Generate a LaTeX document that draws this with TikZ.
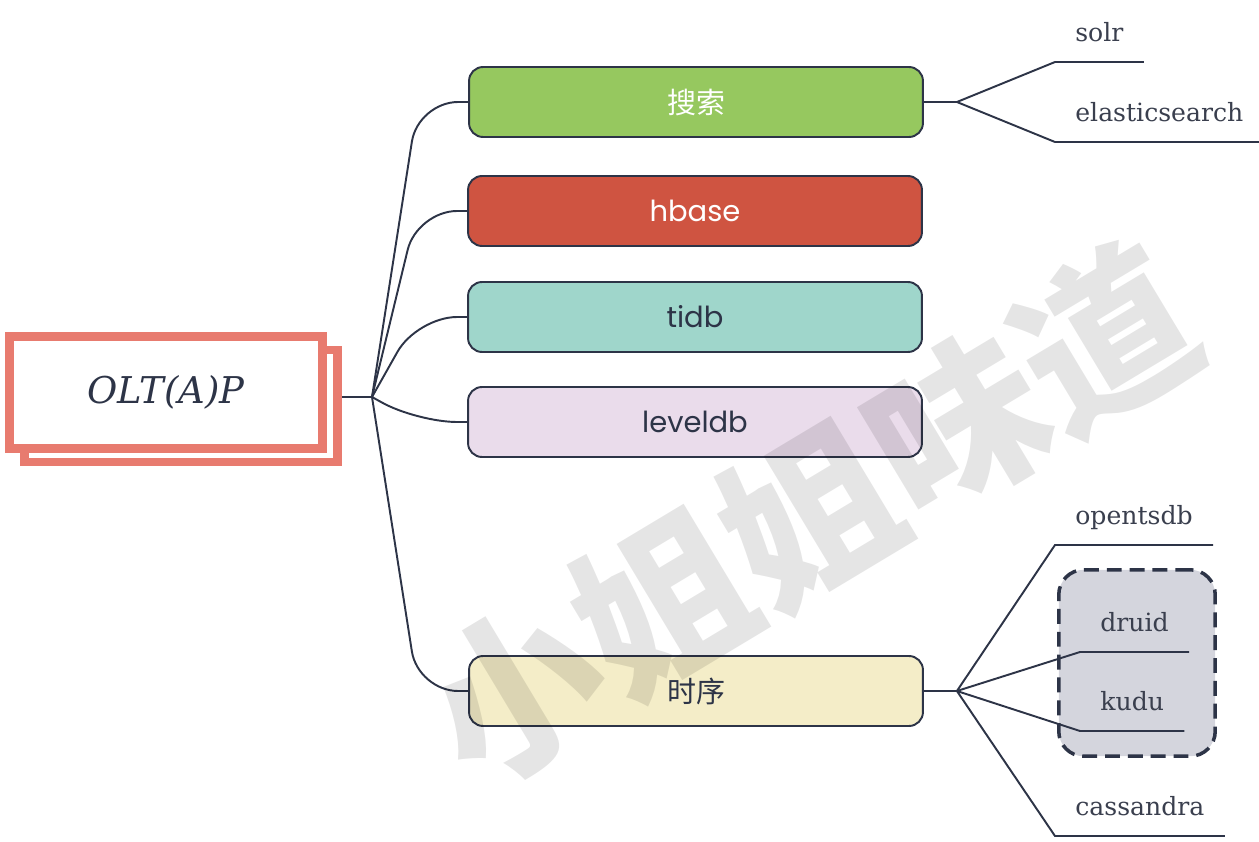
\documentclass[tikz,border=0pt]{standalone}
\usepackage{fontspec}
\setmainfont{DejaVu Serif}
\newfontfamily\boxfont{Poppins}
\newfontfamily\cjk{Noto Sans CJK SC}
\usetikzlibrary{positioning, backgrounds}

\definecolor{ink}{RGB}{45,52,71}
\definecolor{leafink}{RGB}{58,63,78}
\definecolor{salmon}{RGB}{232,123,111}
\definecolor{searchgreen}{RGB}{150,200,95}
\definecolor{hbasered}{RGB}{207,84,65}
\definecolor{tidbteal}{RGB}{159,214,203}
\definecolor{levellilac}{RGB}{234,220,235}
\definecolor{tsyellow}{RGB}{244,237,200}
\definecolor{groupgray}{RGB}{212,213,221}

\begin{document}
\begin{tikzpicture}[x=0.02cm, y=-0.02cm,
    link/.style={draw=ink, line width=1.1pt},
    branch/.style={link, rounded corners=0.8cm},
    topic/.style={draw=ink, line width=1.1pt, rounded corners=0.28cm, minimum width=9.08cm, minimum height=1.40cm, text=ink, font=\boxfont\fontsize{16.5}{18}\selectfont},
    rootbox/.style={draw=salmon, line width=5.1pt, fill=white, minimum width=6.28cm, minimum height=2.24cm},
    leaf/.style={anchor=south west, inner xsep=0.4cm, inner ysep=0.4cm, text depth=0pt, text=leafink, font=\fontsize{14.3}{16}\selectfont},
    groupbox/.style={draw=ink, fill=groupgray, line width=2pt, dash pattern=on 8.5pt off 4.5pt, rounded corners=0.5cm, minimum width=3.13cm, minimum height=3.73cm}]
    \useasboundingbox (0,0) rectangle (1259,842);

    % root
    \node[rootbox] (back) at (181,406) {};
    \node[rootbox, text=ink, font=\itshape\fontsize{21}{24}\selectfont] (root) at (166,392.5) {OLT(A)P};
    \coordinate (hub) at (372,397);

    % topics
    \node[topic, fill=searchgreen, text=white] (search) at (696,102) {\cjk 搜索};
    \node[topic, fill=hbasered, text=white] (hbase) at (695,211) {hbase};
    \node[topic, fill=tidbteal] (tidb) at (695,317) {tidb};
    \node[topic, fill=levellilac] (leveldb) at (695,422) {leveldb};
    \node[topic, fill=tsyellow] (ts) at (696,691) {\cjk 时序};

    % leaves
    \node[leaf] (solr) at (1055,62) {solr};
    \node[leaf] (es) at (1055,142) {elasticsearch};
    \node[leaf] (opentsdb) at (1055,545) {opentsdb};
    \node[leaf] (druid) at (1080,652) {druid};
    \node[leaf] (kudu) at (1080,731) {kudu};
    \node[leaf] (cassandra) at (1055,836) {cassandra};
    \coordinate (hub1) at ([xshift=0.66cm]search.east);
    \coordinate (hub5) at ([xshift=0.66cm]ts.east);

    \begin{scope}[on background layer]
        \node[groupbox] (grp) at (1137,663) {};
        \draw[link] (hub -| back.east) -- (hub);
        \foreach \t in {search, hbase, tidb, leveldb, ts}
            \draw[branch] (hub) -- ([xshift=-1cm]\t.west) -- (\t.west);
        \draw[link] (search.east) -- (hub1);
        \draw[link] (ts.east) -- (hub5);
        \foreach \l in {solr, es}
            \draw[link] (hub1) -- (\l.south west) -- (\l.south east);
        \foreach \l in {opentsdb, druid, kudu, cassandra}
            \draw[link] (hub5) -- (\l.south west) -- (\l.south east);
    \end{scope}

    % watermark
    \node[rotate=31, text=black, text opacity=0.1, font=\cjk\bfseries\fontsize{98}{98}\selectfont] (wm) at (810,515) {小姐姐味道};
\end{tikzpicture}
\end{document}
